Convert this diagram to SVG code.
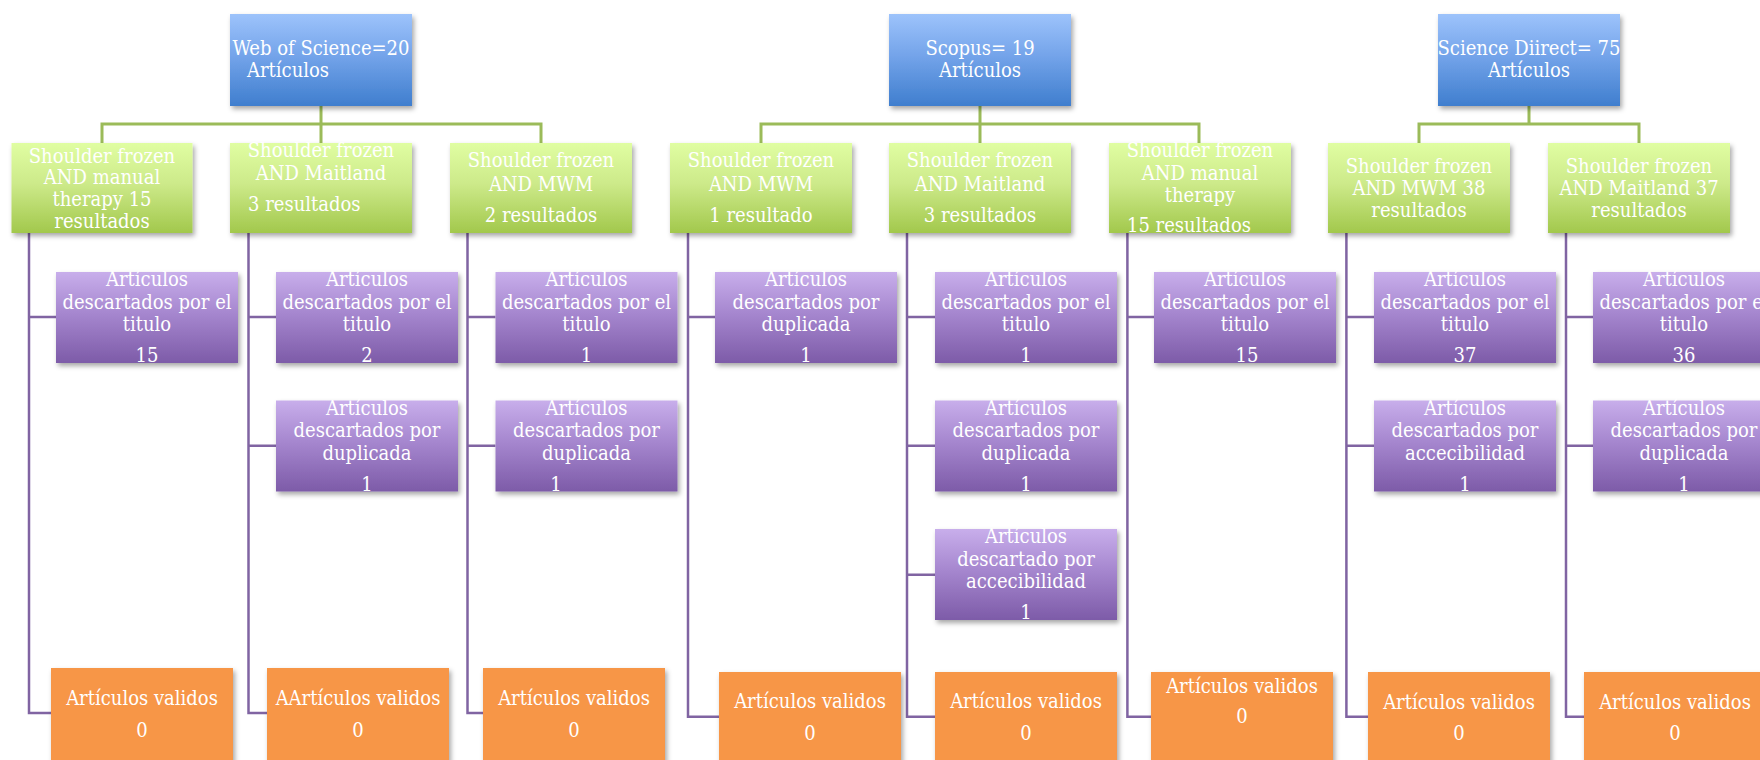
<svg xmlns="http://www.w3.org/2000/svg" width="1760" height="760" viewBox="0 0 1760 760">
<defs>
<linearGradient id="gBlue" x1="0" y1="0" x2="0" y2="1">
<stop offset="0" stop-color="#9DC3FB"/><stop offset="0.45" stop-color="#74A4EA"/><stop offset="1" stop-color="#3F7ECE"/>
</linearGradient>
<linearGradient id="gGreen" x1="0" y1="0" x2="0" y2="1">
<stop offset="0" stop-color="#E0FEA2"/><stop offset="0.45" stop-color="#CDEA8A"/><stop offset="1" stop-color="#A2C84C"/>
</linearGradient>
<linearGradient id="gPurple" x1="0" y1="0" x2="0" y2="1">
<stop offset="0" stop-color="#C8AEEB"/><stop offset="0.45" stop-color="#A687CF"/><stop offset="1" stop-color="#7D5BA8"/>
</linearGradient>
<filter id="sh" x="-10%" y="-10%" width="125%" height="130%">
<feDropShadow dx="2" dy="3" stdDeviation="2.5" flood-color="#000" flood-opacity="0.35"/>
</filter>
<style>
.blue{fill:url(#gBlue);filter:url(#sh)}
.green{fill:url(#gGreen);filter:url(#sh)}
.purple{fill:url(#gPurple);filter:url(#sh)}
.orange{fill:#F79646;filter:url(#sh)}
text{font-family:"DejaVu Serif Condensed","DejaVu Serif","Liberation Serif",serif;font-stretch:condensed;font-size:20px;fill:#FFFFFF;text-anchor:middle}
text.l{text-anchor:start}
.gc{fill:none;stroke:#9BBB59;stroke-width:3}
.pc{fill:none;stroke:#8064A2;stroke-width:2.5}
</style>
</defs>
<rect width="1760" height="760" fill="#FFFFFF"/>

<g id="connectors">
<path class="gc" d="M321 106V143M102 143V124H541V143"/>
<path class="gc" d="M980 106V143M761 143V124H1199V143"/>
<path class="gc" d="M1529 106V124M1419 143V124H1639V143"/>
<path class="pc" d="M29 233V713H51M29 317H56"/>
<path class="pc" d="M248.5 233V713H267M248.5 317H276M248.5 445.7H276"/>
<path class="pc" d="M467.5 233V713H483M467.5 317H495.5M467.5 445.7H495.5"/>
<path class="pc" d="M688 233V716.7H719M688 317H715"/>
<path class="pc" d="M907 233V716.7H935M907 317H935M907 445.7H935M907 574.7H935"/>
<path class="pc" d="M1127.4 233V716.7H1151M1127.4 317H1154"/>
<path class="pc" d="M1346.4 233V716.7H1368M1346.4 317H1374M1346.4 445.7H1374"/>
<path class="pc" d="M1566 233V716.7H1584M1566 317H1593M1566 445.7H1593"/>
</g>

<g id="wos">
<rect class="blue" x="230" y="14" width="182" height="92"/>
<text x="321" y="55">Web of Science=20</text>
<text class="l" x="247" y="77">Artículos</text>
</g>
<g id="scopus">
<rect class="blue" x="889" y="14" width="182" height="92"/>
<text x="980" y="55">Scopus= 19</text>
<text x="980" y="77">Artículos</text>
</g>
<g id="sciencedirect">
<rect class="blue" x="1438" y="14" width="182" height="92"/>
<text x="1529" y="55">Science Diirect= 75</text>
<text x="1529" y="77">Artículos</text>
</g>

<g id="g1">
<rect class="green" x="11.5" y="143" width="181" height="90"/>
<text x="102" y="162.7">Shoulder frozen</text>
<text x="102" y="184.3">AND manual</text>
<text x="102" y="205.7">therapy 15</text>
<text x="102" y="227.5">resultados</text>
</g>
<g id="g2">
<rect class="green" x="230" y="143" width="182" height="90"/>
<text x="321" y="156.7">Shoulder frozen</text>
<text x="321" y="180">AND Maitland</text>
<text class="l" x="248" y="210.7">3 resultados</text>
</g>
<g id="g3">
<rect class="green" x="450" y="143" width="182" height="90"/>
<text x="541" y="167.3">Shoulder frozen</text>
<text x="541" y="190.7">AND MWM</text>
<text x="541" y="221.7">2 resultados</text>
</g>
<g id="g4">
<rect class="green" x="670" y="143" width="182" height="90"/>
<text x="761" y="167.3">Shoulder frozen</text>
<text x="761" y="190.7">AND MWM</text>
<text x="761" y="221.7">1 resultado</text>
</g>
<g id="g5">
<rect class="green" x="889" y="143" width="182" height="90"/>
<text x="980" y="167.3">Shoulder frozen</text>
<text x="980" y="190.7">AND Maitland</text>
<text x="980" y="221.7">3 resultados</text>
</g>
<g id="g6">
<rect class="green" x="1109" y="143" width="182" height="90"/>
<text x="1200" y="156.7">Shoulder frozen</text>
<text x="1200" y="180">AND manual</text>
<text x="1200" y="201.7">therapy</text>
<text class="l" x="1127" y="231.7">15 resultados</text>
</g>
<g id="g7">
<rect class="green" x="1328" y="143" width="182" height="90"/>
<text x="1419" y="172.7">Shoulder frozen</text>
<text x="1419" y="195">AND MWM 38</text>
<text x="1419" y="216.7">resultados</text>
</g>
<g id="g8">
<rect class="green" x="1548" y="143" width="182" height="90"/>
<text x="1639" y="172.7">Shoulder frozen</text>
<text x="1639" y="195">AND Maitland 37</text>
<text x="1639" y="216.7">resultados</text>
</g>

<g id="p1a">
<rect class="purple" x="56" y="272" width="182" height="91"/>
<text x="147" y="286">Artículos</text>
<text x="147" y="308.5">descartados por el</text>
<text x="147" y="331">titulo</text>
<text x="147" y="362">15</text>
</g>
<g id="p2a">
<rect class="purple" x="276" y="272" width="182" height="91"/>
<text x="367" y="286">Artículos</text>
<text x="367" y="308.5">descartados por el</text>
<text x="367" y="331">titulo</text>
<text x="367" y="362">2</text>
</g>
<g id="p2b">
<rect class="purple" x="276" y="400.5" width="182" height="91"/>
<text x="367" y="414.5">Artículos</text>
<text x="367" y="437">descartados por</text>
<text x="367" y="459.5">duplicada</text>
<text x="367" y="490.5">1</text>
</g>
<g id="p3a">
<rect class="purple" x="495.5" y="272" width="182" height="91"/>
<text x="586.5" y="286">Artículos</text>
<text x="586.5" y="308.5">descartados por el</text>
<text x="586.5" y="331">titulo</text>
<text x="586.5" y="362">1</text>
</g>
<g id="p3b">
<rect class="purple" x="495.5" y="400.5" width="182" height="91"/>
<text x="586.5" y="414.5">Artículos</text>
<text x="586.5" y="437">descartados por</text>
<text x="586.5" y="459.5">duplicada</text>
<text x="556" y="490.5">1</text>
</g>
<g id="p4a">
<rect class="purple" x="715" y="272" width="182" height="91"/>
<text x="806" y="286">Artículos</text>
<text x="806" y="308.5">descartados por</text>
<text x="806" y="331">duplicada</text>
<text x="806" y="362">1</text>
</g>
<g id="p5a">
<rect class="purple" x="935" y="272" width="182" height="91"/>
<text x="1026" y="286">Artículos</text>
<text x="1026" y="308.5">descartados por el</text>
<text x="1026" y="331">titulo</text>
<text x="1026" y="362">1</text>
</g>
<g id="p5b">
<rect class="purple" x="935" y="400.5" width="182" height="91"/>
<text x="1026" y="414.5">Artículos</text>
<text x="1026" y="437">descartados por</text>
<text x="1026" y="459.5">duplicada</text>
<text x="1026" y="490.5">1</text>
</g>
<g id="p5c">
<rect class="purple" x="935" y="529" width="182" height="91"/>
<text x="1026" y="543">Artículos</text>
<text x="1026" y="565.5">descartado por</text>
<text x="1026" y="588">accecibilidad</text>
<text x="1026" y="619">1</text>
</g>
<g id="p6a">
<rect class="purple" x="1154" y="272" width="182" height="91"/>
<text x="1245" y="286">Artículos</text>
<text x="1245" y="308.5">descartados por el</text>
<text x="1245" y="331">titulo</text>
<text x="1247" y="362">15</text>
</g>
<g id="p7a">
<rect class="purple" x="1374" y="272" width="182" height="91"/>
<text x="1465" y="286">Artículos</text>
<text x="1465" y="308.5">descartados por el</text>
<text x="1465" y="331">titulo</text>
<text x="1465" y="362">37</text>
</g>
<g id="p7b">
<rect class="purple" x="1374" y="400.5" width="182" height="91"/>
<text x="1465" y="414.5">Artículos</text>
<text x="1465" y="437">descartados por</text>
<text x="1465" y="459.5">accecibilidad</text>
<text x="1465" y="490.5">1</text>
</g>
<g id="p8a">
<rect class="purple" x="1593" y="272" width="182" height="91"/>
<text x="1684" y="286">Artículos</text>
<text x="1684" y="308.5">descartados por el</text>
<text x="1684" y="331">titulo</text>
<text x="1684" y="362">36</text>
</g>
<g id="p8b">
<rect class="purple" x="1593" y="400.5" width="182" height="91"/>
<text x="1684" y="414.5">Artículos</text>
<text x="1684" y="437">descartados por</text>
<text x="1684" y="459.5">duplicada</text>
<text x="1684" y="490.5">1</text>
</g>

<g id="o1">
<rect class="orange" x="51" y="668" width="182" height="95"/>
<text x="142" y="705">Artículos validos</text>
<text x="142" y="737">0</text>
</g>
<g id="o2">
<rect class="orange" x="267" y="668" width="182" height="95"/>
<text x="358" y="705">AArtículos validos</text>
<text x="358" y="737">0</text>
</g>
<g id="o3">
<rect class="orange" x="483" y="668" width="182" height="95"/>
<text x="574" y="705">Artículos validos</text>
<text x="574" y="737">0</text>
</g>
<g id="o4">
<rect class="orange" x="719" y="672" width="182" height="95"/>
<text x="810" y="708">Artículos validos</text>
<text x="810" y="740">0</text>
</g>
<g id="o5">
<rect class="orange" x="935" y="672" width="182" height="95"/>
<text x="1026" y="708">Artículos validos</text>
<text x="1026" y="740">0</text>
</g>
<g id="o6">
<rect class="orange" x="1151" y="672" width="182" height="95"/>
<text x="1242" y="693">Artículos validos</text>
<text x="1242" y="723">0</text>
</g>
<g id="o7">
<rect class="orange" x="1368" y="672" width="182" height="95"/>
<text x="1459" y="709">Artículos validos</text>
<text x="1459" y="740">0</text>
</g>
<g id="o8">
<rect class="orange" x="1584" y="672" width="182" height="95"/>
<text x="1675" y="709">Artículos validos</text>
<text x="1675" y="740">0</text>
</g>
</svg>
